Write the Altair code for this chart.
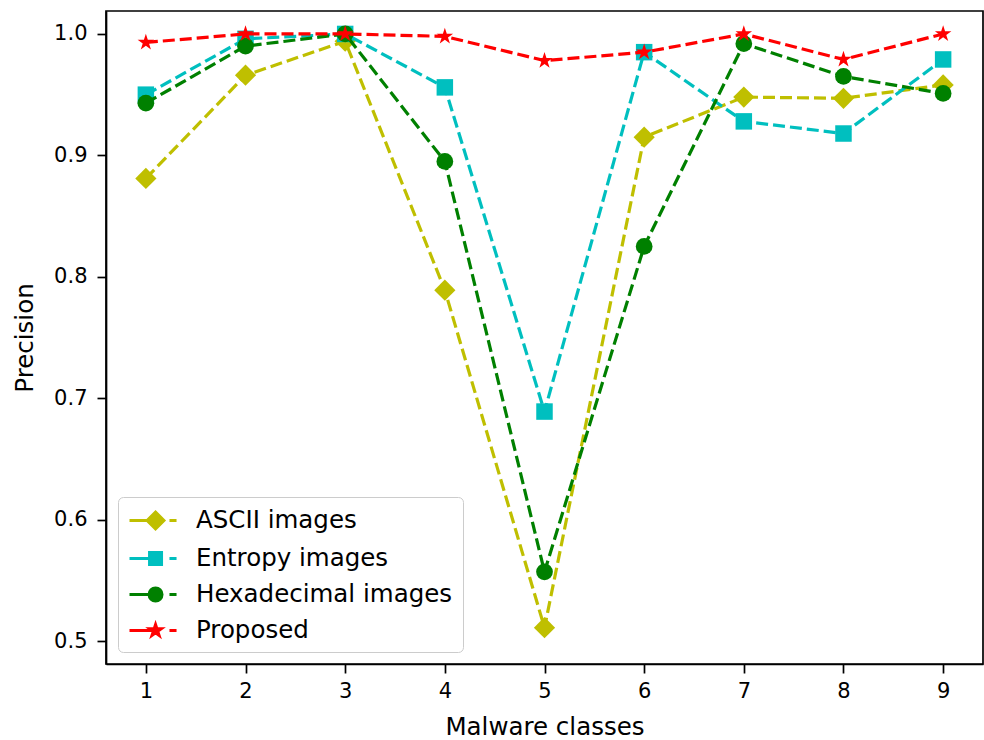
import math
import altair as alt
import pandas as pd

classes = [1, 2, 3, 4, 5, 6, 7, 8, 9]
series_names = ["ASCII images", "Entropy images", "Hexadecimal images", "Proposed"]
ascii_vals = [0.881, 0.966, 0.994, 0.789, 0.511, 0.915, 0.948, 0.947, 0.958]
entropy_vals = [0.950, 0.996, 1.000, 0.956, 0.689, 0.985, 0.928, 0.918, 0.979]
hexa_vals = [0.943, 0.990, 1.000, 0.895, 0.557, 0.825, 0.992, 0.965, 0.951]
proposed_vals = [0.993, 1.000, 1.000, 0.998, 0.978, 0.985, 1.000, 0.979, 1.000]
y_ticks = [0.5, 0.6, 0.7, 0.8, 0.9, 1.0]

colors = ["#bfbf00", "#00bfbf", "#008000", "#ff0000"]

rows = []
for name, vals in zip(series_names, [ascii_vals, entropy_vals, hexa_vals, proposed_vals]):
    for c, v in zip(classes, vals):
        rows.append({"cls": c, "value": v, "series": name})
df = pd.DataFrame(rows)


def star_path(cx, R, ri=0.381966):
    pts = []
    for k in range(10):
        r = R if k % 2 == 0 else R * ri
        a = -math.pi / 2 + k * math.pi / 5
        pts.append((cx + r * math.cos(a), r * math.sin(a)))
    return "M" + "L".join(f"{x:.3f},{y:.3f}" for x, y in pts) + "Z"


# plot marker shapes
plot_star = star_path(0, 1.0)
plot_shapes = ["diamond", "square", "circle", plot_star]
plot_sizes = [450, 272, 280, 300]

# legend symbols: line + marker + dash
cx = 1.17
lines = "M-1,0H1.17M2.33,0H2.92"
leg_diamond = f"{lines}M{cx},-0.7L{cx+0.7},0L{cx},0.7L{cx-0.7},0Z"
leg_square = f"{lines}M{cx-0.5},-0.5H{cx+0.5}V0.5H{cx-0.5}Z"
r = 0.54
leg_circle = f"{lines}M{cx+r},0A{r},{r} 0 1,1 {cx-r},0A{r},{r} 0 1,1 {cx+r},0Z"
leg_star = lines + star_path(cx, 0.5)
legend_shapes = [leg_diamond, leg_square, leg_circle, leg_star]

x_scale = alt.Scale(domain=[0.6, 9.4], nice=False, zero=False)
y_scale = alt.Scale(domain=[0.4811, 1.0189], nice=False, zero=False)

x_axis = alt.Axis(values=classes, format="d", title="Malware classes",
                  titleY=70, titleBaseline="alphabetic", grid=False, labelPadding=7)
y_axis = alt.Axis(values=y_ticks, format=".1f", title="Precision",
                  titleX=-81, titleY=326.5, titleBaseline="middle", titleAngle=-90,
                  grid=False, labelPadding=10)

base = alt.Chart(df)
layers = []
for i, name in enumerate(series_names):
    sub = base.transform_filter(alt.datum.series == name)
    layers.append(
        sub.mark_line(strokeWidth=3.2, strokeDash=[12, 5], color=colors[i]).encode(
            x=alt.X("cls:Q", scale=x_scale, axis=x_axis),
            y=alt.Y("value:Q", scale=y_scale, axis=y_axis),
        )
    )
    layers.append(
        sub.mark_point(filled=True, opacity=1, color=colors[i], shape=plot_shapes[i],
                       size=plot_sizes[i], strokeWidth=0).encode(
            x=alt.X("cls:Q", scale=x_scale, axis=x_axis),
            y=alt.Y("value:Q", scale=y_scale, axis=y_axis),
        )
    )

legend = alt.Legend(
    title=None, orient="none", legendX=12, legendY=486,
    labelFontSize=24.5, labelFont="DejaVu Sans", labelColor="#000000",
    symbolSize=576, symbolStrokeWidth=3, symbolOpacity=1,
    labelOffset=41, rowPadding=10, padding=10,
    strokeColor="#cccccc", fillColor="rgba(255,255,255,0.8)", cornerRadius=5,
    labelLimit=400,
)

legend_layer = base.mark_point(filled=True, opacity=0, size=576).encode(
    x=alt.X("cls:Q", scale=x_scale, axis=x_axis),
    y=alt.Y("value:Q", scale=y_scale, axis=y_axis),
    fill=alt.Fill("series:N", scale=alt.Scale(domain=series_names, range=colors), legend=legend),
    stroke=alt.Stroke("series:N", scale=alt.Scale(domain=series_names, range=colors), legend=legend),
    shape=alt.Shape("series:N", scale=alt.Scale(domain=series_names, range=legend_shapes), legend=legend),
)
layers.append(legend_layer)

chart = alt.layer(*layers).properties(
    width=877, height=653,
    padding={"left": 106, "top": 11, "right": 1, "bottom": 76},
    autosize=alt.AutoSizeParams(type="none"),
    background="white",
).configure_view(
    stroke="#000000", strokeWidth=1.7
).configure_axis(
    grid=False, domainColor="#000000", domainWidth=1.7, tickColor="#000000",
    tickWidth=1.7, tickSize=9, labelFontSize=21, labelFont="DejaVu Sans",
    labelColor="#000000", titleFontSize=24.5, titleFont="DejaVu Sans",
    titleFontWeight="normal", titleColor="#000000",
)

chart.save("out.html", embed_options={"renderer": "svg", "actions": False})
